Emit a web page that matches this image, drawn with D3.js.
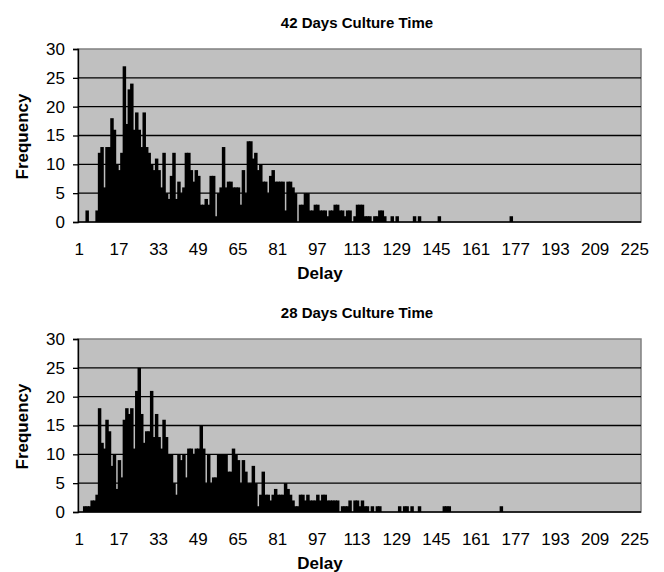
<!DOCTYPE html>
<meta charset="utf-8">
<style>
body { margin: 0; background: #fff; }
text { font-family: "Liberation Sans", Arial, sans-serif; }
</style>
<script src="https://d3js.org/d3.v7.min.js"></script>
<div id="chart"></div>
<script>

// delay categories 1..227
var delays = d3.range(1, 228);
var xTickLabels = [1, 17, 33, 49, 65, 81, 97, 113, 129, 145, 161, 177, 193, 209, 225];
var yTickLabels = [0, 5, 10, 15, 20, 25, 30];

// frequency per delay, 42 days culture time
var freq42 = [
  0,0,0,2,0,0,0,2,12,13, 6,13,13,18,16,10,9,12,27,17,
  23,24,16,19,16,13,19,13,12,10, 9,11,9,6,12,5,4,8,12,4,
  7,5,6,12,12,9,7,9,8,3, 3,4,3,8,8,1,5,6,13,6,
  7,7,6,6,6,3,9,5,14,14, 11,12,9,10,7,7,5,8,9,7,
  7,7,7,2,7,7,6,5,0,3, 3,5,5,2,2,3,3,2,2,2,
  1,2,2,3,3,2,2,1,2,2, 0,1,3,3,3,1,1,1,0,1,
  1,2,2,1,0,0,1,0,1,0, 0,0,0,0,0,1,0,1,0,0,
  0,0,0,0,0,1,0,0,0,0, 0,0,0,0,0,0,0,0,0,0,
  0,0,0,0,0,0,0,0,0,0, 0,0,0,0,1
];

// frequency per delay, 28 days culture time
var freq28 = [
  0,0,1,1,1,2,2,3,18,12, 11,16,14,8,10,4,9,6,16,18,
  17,18,11,21,25,17,12,14,14,21, 13,17,13,11,16,13,10,10,5,3,
  10,9,10,6,11,11,10,11,11,15, 11,5,10,5,6,6,10,10,10,10,
  7,7,11,10,9,5,9,7,5,5, 8,5,1,3,7,3,3,2,3,4,
  3,3,3,5,4,3,2,1,1,3, 3,2,3,2,2,2,3,2,3,3,
  2,2,2,2,2,0,1,1,1,2, 0,2,2,1,2,1,1,0,1,0,
  1,1,0,0,0,0,0,0,0,1, 0,1,1,0,1,0,0,1,0,0,
  0,0,0,0,0,0,0,1,1,1, 0,0,0,0,0,0,0,0,0,0,
  0,0,0,0,0,0,0,0,0,0, 1
];

var svg = d3.select("#chart")
  .append("svg")
    .attr("width", 664)
    .attr("height", 572);

var margin = {left: 78, right: 641};

function drawPanel(title, values, offset) {
  var top = 49 + offset, bottom = 222 + offset;

  var x = d3.scaleBand()
    .domain(delays)
    .range([margin.left, margin.right])
    .padding(0);

  var y = d3.scaleLinear()
    .domain([0, 30])
    .range([bottom, top]);

  var g = svg.append("g");

  // grey plot area
  g.append("rect")
    .attr("x", margin.left)
    .attr("y", top)
    .attr("width", margin.right - margin.left)
    .attr("height", bottom - top)
    .attr("fill", "#c0c0c0")
    .attr("stroke", "#808080")
    .attr("stroke-width", 1.5);

  // grid lines
  g.selectAll(".grid")
    .data([5, 10, 15, 20, 25])
    .enter()
    .append("line")
      .attr("x1", margin.left)
      .attr("x2", margin.right)
      .attr("y1", function(d) { return y(d); })
      .attr("y2", function(d) { return y(d); })
      .attr("stroke", "#000")
      .attr("stroke-width", 1.3);

  // bars (a little overlap so neighbours merge into one black mass)
  g.selectAll(".bar")
    .data(values.map(function(v, i) { return {delay: delays[i], value: v}; })
                .filter(function(d) { return d.value > 0; }))
    .enter()
    .append("rect")
      .attr("x", function(d) { return x(d.delay); })
      .attr("width", x.bandwidth() + 1)
      .attr("y", function(d) { return y(d.value); })
      .attr("height", function(d) { return y(0) - y(d.value); })
      .attr("fill", "#000");

  // y axis
  var yAxis = g.append("g")
    .attr("transform", "translate(" + margin.left + ",0)")
    .call(d3.axisLeft(y).tickValues(yTickLabels).tickSize(5).tickPadding(8));
  yAxis.select(".domain").attr("stroke", "#000").attr("stroke-width", 1.3);
  yAxis.selectAll(".tick line").attr("stroke-width", 1.3);
  yAxis.selectAll("text")
    .style("font-size", "17px")
    .attr("fill", "#000");

  // x axis
  var xAxis = g.append("g")
    .attr("transform", "translate(0," + bottom + ")")
    .call(d3.axisBottom(x).tickValues(xTickLabels).tickSize(0));
  xAxis.select(".domain").remove();
  xAxis.selectAll("text")
    .attr("y", 33)
    .attr("dy", null)
    .style("font-size", "17px")
    .attr("fill", "#000");
  g.append("line")
    .attr("x1", margin.left)
    .attr("x2", margin.right)
    .attr("y1", bottom)
    .attr("y2", bottom)
    .attr("stroke", "#000")
    .attr("stroke-width", 1.5);

  // titles
  g.append("text")
    .attr("x", 357)
    .attr("y", offset + 28)
    .attr("text-anchor", "middle")
    .style("font-size", "15px")
    .style("font-weight", "bold")
    .text(title);

  g.append("text")
    .attr("x", 320)
    .attr("y", bottom + 57)
    .attr("text-anchor", "middle")
    .style("font-size", "17px")
    .style("font-weight", "bold")
    .text("Delay");

  g.append("text")
    .attr("transform", "translate(28," + ((top + bottom) / 2 + 1) + ") rotate(-90)")
    .attr("text-anchor", "middle")
    .style("font-size", "17px")
    .style("font-weight", "bold")
    .text("Frequency");
}

drawPanel("42 Days Culture Time", freq42, 0);
drawPanel("28 Days Culture Time", freq28, 290);

</script>
